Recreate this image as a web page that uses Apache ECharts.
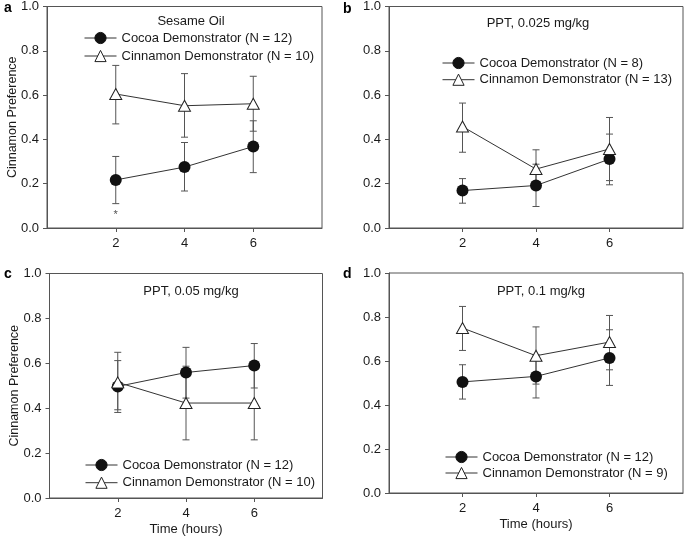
<!DOCTYPE html>
<html><head><meta charset="utf-8">
<script src="https://cdn.jsdelivr.net/npm/echarts@6/dist/echarts.min.js"></script>
<style>html,body{margin:0;padding:0;background:#fff}#c{width:685px;height:539px}</style>
</head><body><div id="c"></div>
<script>
// ---- data ----
const hours = [2, 4, 6];
const xTickValues = [2, 4, 6];
const panelLetters = ['a', 'b', 'c', 'd'];
const panelTitles = ['Sesame Oil', 'PPT, 0.025 mg/kg', 'PPT, 0.05 mg/kg', 'PPT, 0.1 mg/kg'];
const cocoaNames = ['Cocoa Demonstrator (N = 12)', 'Cocoa Demonstrator (N = 8)', 'Cocoa Demonstrator (N = 12)', 'Cocoa Demonstrator (N = 12)'];
const cinnNames = ['Cinnamon Demonstrator (N = 10)', 'Cinnamon Demonstrator (N = 13)', 'Cinnamon Demonstrator (N = 10)', 'Cinnamon Demonstrator (N = 9)'];

const aCocoa = [0.217, 0.275, 0.368];
const aCocoaLow = [0.110, 0.167, 0.250];
const aCocoaHigh = [0.323, 0.386, 0.484];
const aCinn = [0.605, 0.552, 0.561];
const aCinnLow = [0.470, 0.410, 0.437];
const aCinnHigh = [0.734, 0.697, 0.685];
const aSigX = [2];
const aSigY = [0.060];

const bCocoa = [0.169, 0.192, 0.311];
const bCocoaLow = [0.112, 0.097, 0.195];
const bCocoaHigh = [0.223, 0.288, 0.424];
const bCinn = [0.458, 0.266, 0.357];
const bCinnLow = [0.342, 0.179, 0.214];
const bCinnHigh = [0.564, 0.353, 0.499];

const cCocoa = [0.497, 0.559, 0.590];
const cCocoaLow = [0.381, 0.445, 0.490];
const cCocoaHigh = [0.612, 0.671, 0.688];
const cCinn = [0.515, 0.423, 0.423];
const cCinnLow = [0.393, 0.259, 0.259];
const cCinnHigh = [0.649, 0.587, 0.587];

const dCocoa = [0.505, 0.530, 0.614];
const dCocoaLow = [0.427, 0.432, 0.489];
const dCocoaHigh = [0.583, 0.628, 0.742];
const dCinn = [0.750, 0.624, 0.686];
const dCinnLow = [0.648, 0.495, 0.560];
const dCinnHigh = [0.848, 0.755, 0.807];

const panels = [
  {cocoa: aCocoa, cocoaLow: aCocoaLow, cocoaHigh: aCocoaHigh, cinn: aCinn, cinnLow: aCinnLow, cinnHigh: aCinnHigh},
  {cocoa: bCocoa, cocoaLow: bCocoaLow, cocoaHigh: bCocoaHigh, cinn: bCinn, cinnLow: bCinnLow, cinnHigh: bCinnHigh},
  {cocoa: cCocoa, cocoaLow: cCocoaLow, cocoaHigh: cCocoaHigh, cinn: cCinn, cinnLow: cCinnLow, cinnHigh: cCinnHigh},
  {cocoa: dCocoa, cocoaLow: dCocoaLow, cocoaHigh: dCocoaHigh, cinn: dCinn, cinnLow: dCinnLow, cinnHigh: dCinnHigh}
];

// ---- layout / style ----
const FONT = '"Liberation Sans", Arial, Helvetica, sans-serif';
const TXT = '#1a1a1a';
const AX = '#555';
const grids = [
  {left: 47, top: 6, width: 275, height: 222},
  {left: 389, top: 6, width: 294, height: 222},
  {left: 49.5, top: 273.5, width: 273, height: 224.5},
  {left: 389, top: 273, width: 294, height: 220}
];
const legendPos = [
  {left: 84, top: 31, itemGap: 4},
  {left: 442, top: 56, itemGap: 2.7},
  {left: 85, top: 458, itemGap: 3.7},
  {left: 445, top: 450, itemGap: 2}
];
const titlePos = [[191, 21], [538, 23], [191, 291], [541, 291]];
const letterPos = [[4, 8], [343, 9], [4, 274], [343, 274]];

const option = {
  animation: false,
  backgroundColor: '#fff',
  textStyle: {fontFamily: FONT},
  grid: grids.map(g => Object.assign({show: true, borderColor: AX, borderWidth: 1, backgroundColor: 'transparent'}, g)),
  xAxis: grids.map((g, i) => ({
    type: 'value', gridIndex: i, min: 0, max: 8, interval: 2,
    name: (i >= 2) ? 'Time (hours)' : '', nameLocation: 'middle', nameGap: 25,
    nameTextStyle: {fontSize: 13, color: TXT, fontFamily: FONT},
    axisLine: {lineStyle: {color: AX, width: 1}},
    axisTick: {show: true, length: 4, lineStyle: {color: AX}, customValues: xTickValues},
    axisLabel: {fontSize: 13, color: TXT, margin: 9, fontFamily: FONT, customValues: xTickValues,
      formatter: v => (v === 0 || v === 8) ? '' : String(v)},
    splitLine: {show: false}
  })),
  yAxis: grids.map((g, i) => ({
    type: 'value', gridIndex: i, min: 0, max: 1, interval: 0.2,
    name: (i % 2 === 0) ? 'Cinnamon Preference' : '', nameLocation: 'middle', nameGap: 28,
    nameRotate: 90, nameMoveOverlap: false,
    nameTextStyle: {fontSize: 12.5, color: TXT, fontFamily: FONT},
    axisLine: {show: true, lineStyle: {color: AX, width: 1}},
    axisTick: {show: true, length: 4, lineStyle: {color: AX}},
    axisLabel: {fontSize: 13, color: TXT, margin: 8, fontFamily: FONT, formatter: v => v.toFixed(1)},
    splitLine: {show: false}
  })),
  legend: legendPos.map((p, i) => ({
    orient: 'vertical', left: p.left, top: p.top, padding: 0, itemGap: p.itemGap,
    itemWidth: 32, itemHeight: 14,
    selectedMode: false,
    lineStyle: {width: 1, color: '#333'},
    itemStyle: {borderWidth: 1},
    data: [cocoaNames[i], cinnNames[i]],
    textStyle: {fontSize: 13, color: TXT, fontFamily: FONT, lineHeight: 14}
  })),
  graphic: [
    ...panelTitles.map((t, i) => ({type: 'text', x: titlePos[i][0], y: titlePos[i][1],
      style: {text: t, font: '13px ' + FONT, fill: TXT, textAlign: 'center', textVerticalAlign: 'middle'}})),
    ...panelLetters.map((t, i) => ({type: 'text', x: letterPos[i][0], y: letterPos[i][1],
      style: {text: t, font: 'bold 14px ' + FONT, fill: '#000', textAlign: 'left', textVerticalAlign: 'middle'}}))
  ],
  series: []
};

function errSeries(gi, lows, highs) {
  return {
    type: 'custom', xAxisIndex: gi, yAxisIndex: gi, z: 1, silent: true,
    data: hours.map((h, k) => [h, lows[k], highs[k]]),
    encode: {x: 0, y: [1, 2]},
    renderItem: function (params, api) {
      const x = api.value(0);
      const lo = api.coord([x, api.value(1)]);
      const hi = api.coord([x, api.value(2)]);
      const w = 3.5;
      const st = {stroke: '#555', lineWidth: 1};
      return {type: 'group', children: [
        {type: 'line', shape: {x1: lo[0], y1: lo[1], x2: hi[0], y2: hi[1]}, style: st},
        {type: 'line', shape: {x1: lo[0] - w, y1: lo[1], x2: lo[0] + w, y2: lo[1]}, style: st},
        {type: 'line', shape: {x1: hi[0] - w, y1: hi[1], x2: hi[0] + w, y2: hi[1]}, style: st}
      ]};
    }
  };
}

panels.forEach((p, i) => {
  option.series.push(errSeries(i, p.cocoaLow, p.cocoaHigh));
  option.series.push(errSeries(i, p.cinnLow, p.cinnHigh));
});
panels.forEach((p, i) => {
  option.series.push({
    type: 'line', name: cocoaNames[i], xAxisIndex: i, yAxisIndex: i, z: 3,
    data: hours.map((h, k) => [h, p.cocoa[k]]),
    symbol: 'circle', symbolSize: 12, showSymbol: true,
    lineStyle: {color: '#333', width: 1},
    itemStyle: {color: '#111', borderColor: '#111', borderWidth: 0}
  });
  option.series.push({
    type: 'line', name: cinnNames[i], xAxisIndex: i, yAxisIndex: i, z: 4,
    data: hours.map((h, k) => [h, p.cinn[k]]),
    symbol: 'triangle', symbolSize: [12, 11], showSymbol: true,
    lineStyle: {color: '#333', width: 1},
    itemStyle: {color: '#fff', borderColor: '#222', borderWidth: 1}
  });
});
option.series.push({
  type: 'scatter', xAxisIndex: 0, yAxisIndex: 0, z: 5, silent: true,
  data: aSigX.map((x, k) => [x, aSigY[k]]),
  symbol: 'circle', symbolSize: 1,
  itemStyle: {color: 'rgba(0,0,0,0)'},
  label: {show: true, position: 'inside', formatter: '*', fontSize: 11, color: '#222', fontFamily: FONT}
});

const chart = echarts.init(document.getElementById('c'), null, {renderer: 'canvas'});
chart.setOption(option);
</script>
</body></html>
